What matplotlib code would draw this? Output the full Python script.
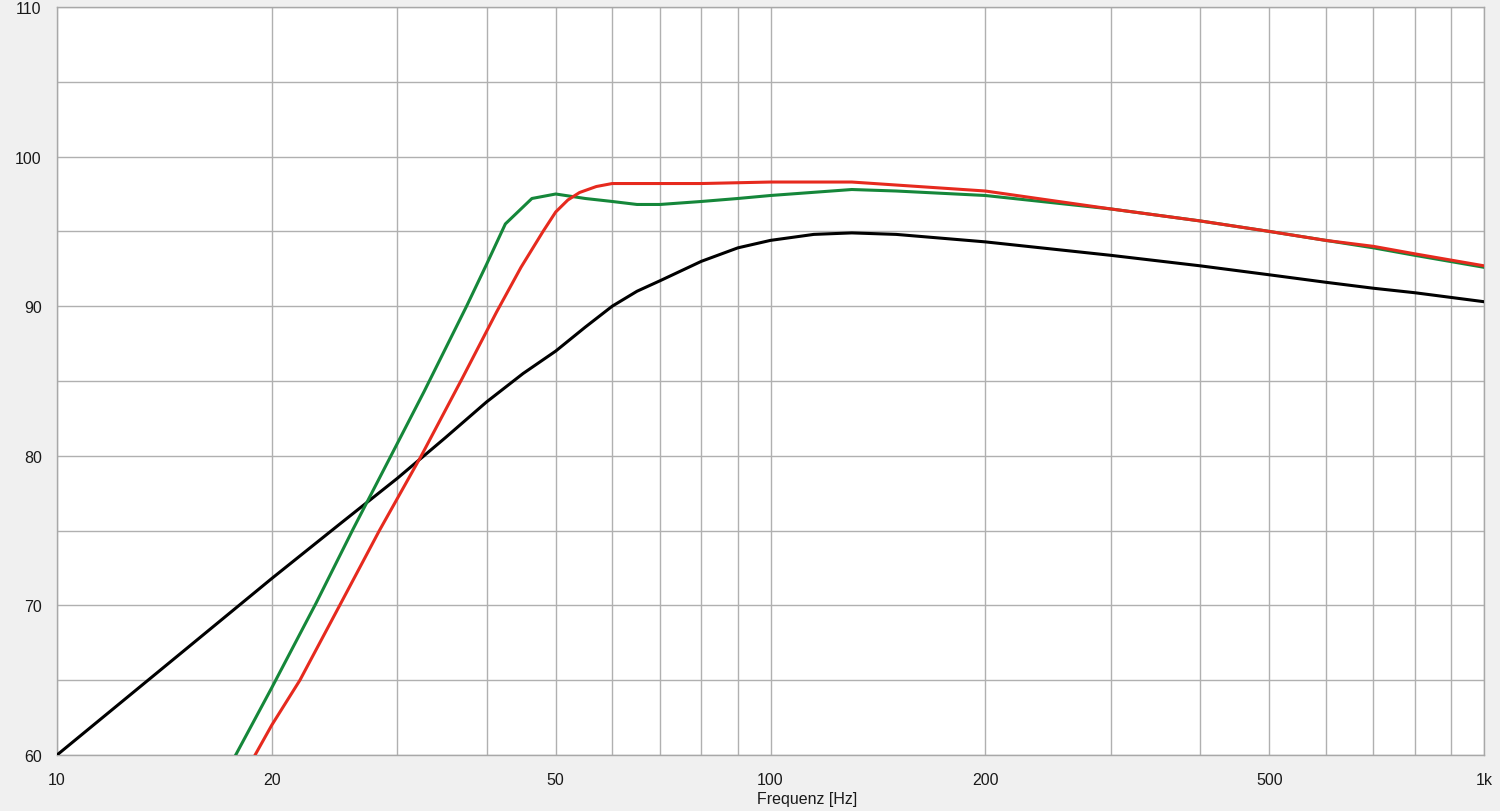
import matplotlib
matplotlib.use("Agg")
import matplotlib.pyplot as plt
from matplotlib.ticker import FixedLocator, NullFormatter

# black curve
black_f = [10, 15, 20, 25, 30, 35, 40, 45, 50, 55, 60, 65, 70, 80, 90,
           100, 115, 130, 150, 200, 300, 400, 500, 600, 700, 800, 1000]
black_db = [60.0, 66.9, 71.8, 75.5, 78.5, 81.2, 83.6, 85.5, 87.0, 88.6, 90.0, 91.0, 91.7,
            93.0, 93.9, 94.4, 94.8, 94.9, 94.8, 94.3, 93.4, 92.7, 92.1, 91.6, 91.2,
            90.9, 90.3]

# green curve
green_f = [17.8, 20, 23.1, 26.0, 29.6, 32.7, 37.5, 40, 42.5, 46.3, 50, 55, 60, 65,
           70, 80, 90, 100, 130, 150, 200, 300, 400, 500, 600, 700, 800, 1000]
green_db = [60.0, 64.5, 70.2, 75.1, 80.3, 84.3, 90.0, 92.8, 95.5, 97.2, 97.5, 97.2,
            97.0, 96.8, 96.8, 97.0, 97.2, 97.4, 97.8, 97.7, 97.4, 96.5, 95.7, 95.0,
            94.4, 93.9, 93.4, 92.6]

# red curve
red_f = [18.95, 20, 21.9, 24.9, 28.3, 32.4, 37.0, 41.3, 44.7, 48, 50, 52, 54, 57, 60,
         80, 100, 130, 150, 200, 300, 400, 500, 600, 700, 800, 1000]
red_db = [60.0, 62.0, 65.0, 70.0, 75.0, 80.0, 85.2, 89.6, 92.6, 95.0, 96.3, 97.1, 97.6,
          98.0, 98.2, 98.2, 98.3, 98.3, 98.1, 97.7, 96.5, 95.7, 95.0, 94.4, 94.0,
          93.5, 92.7]

x_major = [10, 20, 50, 100, 200, 500, 1000]
x_labels = ['10', '20', '50', '100', '200', '500', '1k']
x_minor = [30, 40, 60, 70, 80, 90, 300, 400, 600, 700, 800, 900]
y_major = [60, 70, 80, 90, 100, 110]
y_minor = [65, 75, 85, 95, 105]

plt.rcParams['font.family'] = ['Liberation Sans', 'DejaVu Sans']

fig = plt.figure(figsize=(15, 8.12), dpi=100, facecolor='#f0f0f0')
ax = fig.add_axes([57 / 1500, 56 / 812, 1427 / 1500, 748 / 812])
ax.set_facecolor('white')

ax.plot(black_f, black_db, color='black', lw=2.2, zorder=3)
ax.plot(green_f, green_db, color='#15873a', lw=2.2, zorder=3)
ax.plot(red_f, red_db, color='#e62a1e', lw=2.2, zorder=4)

ax.set_xscale('log')
ax.set_xlim(10, 1000)
ax.set_ylim(60, 110)

ax.xaxis.set_major_locator(FixedLocator(x_major))
ax.set_xticklabels(x_labels)
ax.xaxis.set_minor_locator(FixedLocator(x_minor))
ax.xaxis.set_minor_formatter(NullFormatter())
ax.yaxis.set_major_locator(FixedLocator(y_major))
ax.yaxis.set_minor_locator(FixedLocator(y_minor))

ax.grid(True, which='both', color='#b0b0b0', lw=1.0, zorder=0)
ax.set_axisbelow(True)
ax.tick_params(which='both', length=0, labelsize=11.5, colors='#1a1a1a')
ax.tick_params(axis='x', pad=12)
ax.tick_params(axis='y', pad=11)
for s in ax.spines.values():
    s.set_color('#a8a8a8')
    s.set_linewidth(1.0)

ax.set_xlabel('Frequenz [Hz]', fontsize=11.5, color='#1a1a1a')
ax.xaxis.set_label_coords(0.5256, -0.0575)
ax.xaxis.label.set_va('center')

fig.savefig('out.png', dpi=100, facecolor=fig.get_facecolor())
